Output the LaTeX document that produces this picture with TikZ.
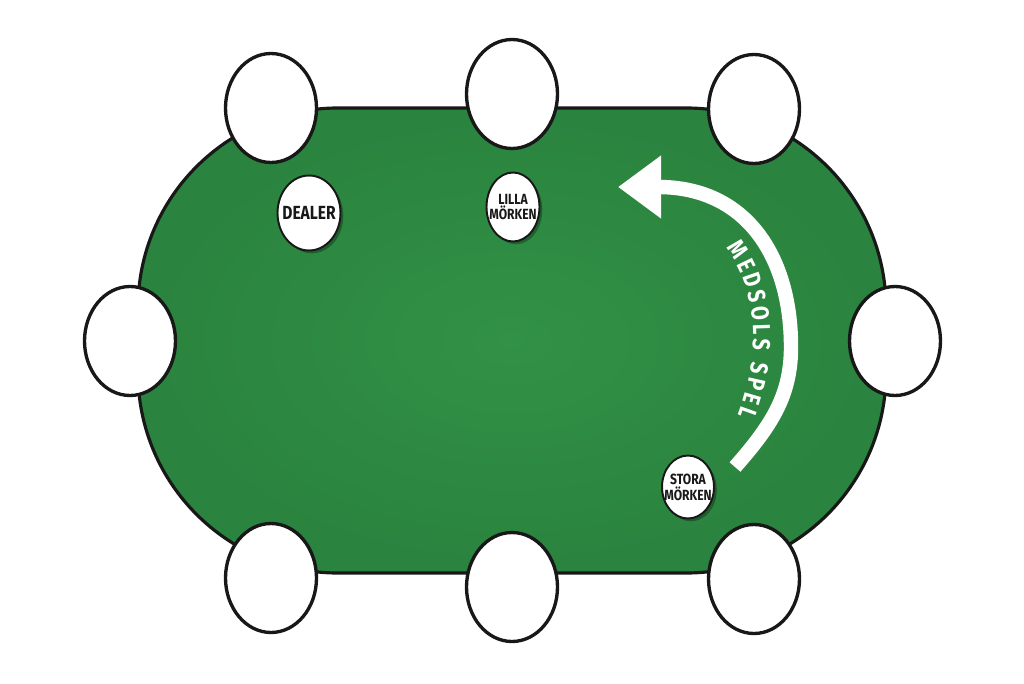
\documentclass[tikz,border=0pt]{standalone}
\usepackage{fontspec}
\usetikzlibrary{shapes.geometric,arrows.meta,decorations.text,shadows}
\newfontfamily\chipfont[FakeStretch=0.82]{Fira Sans}
\definecolor{felt}{RGB}{42,131,62}
\definecolor{feltlight}{RGB}{49,145,70}
\definecolor{rim}{RGB}{24,24,24}
\tikzset{
    table/.style={draw=rim,line width=1.8pt,inner color=feltlight,outer color=felt,rounded corners=4cm},
    seat/.style={ellipse,draw=rim,fill=white,line width=1.9pt,minimum width=1.82cm,minimum height=2.18cm,inner sep=0pt},
    chip/.style={ellipse,draw=rim,fill=white,line width=1.1pt,inner sep=0pt,
        drop shadow={shadow xshift=1.6pt,shadow yshift=-1.6pt,fill=black,opacity=0.3}},
    chiplabel/.style={text=rim,align=center,inner sep=0pt,font=\chipfont\bfseries\fontsize{8.4}{9}\selectfont},
    playarrow/.style={draw=white,line width=8.2pt,-{Triangle[length=0.86cm,width=1.2cm]}}
}
\newcommand{\spelfont}{\chipfont\bfseries\fontsize{14}{16}\selectfont}

\begin{document}
\begin{tikzpicture}[x=0.02cm,y=-0.02cm]
\fill[white](0,0)rectangle(1024,683);
\useasboundingbox(0,0)rectangle(1024,683);
\path[table](138,108)rectangle(886,573);
\node[seat](seattl) at (271,108){};
\node[seat](seattm) at (512,94){};
\node[seat](seattr) at (754,109){};
\node[seat](seatl) at (130,341){};
\node[seat](seatr) at (895,341){};
\node[seat](seatbl) at (271,578){};
\node[seat](seatbm) at (512,587){};
\node[seat](seatbr) at (754,579){};
\node[chip,minimum width=1.26cm,minimum height=1.5cm,
    label={[chiplabel,font=\chipfont\bfseries\fontsize{10.8}{12}\selectfont]center:DEALER}](dealer) at (309,213){};
\node[chip,minimum width=1.06cm,minimum height=1.38cm,
    label={[chiplabel]center:{LILLA\\MÖRKEN}}](small) at (513,207){};
\node[chip,minimum width=1.04cm,minimum height=1.26cm,
    label={[chiplabel]center:{STORA\\MÖRKEN}}](big) at (688,487){};
\coordinate(arrowtail) at (735,467);
\coordinate(arrowtip) at (618,187);
\draw[playarrow](arrowtail)..controls(772,425)and(791,395)..(791,347)
    ..controls(791,255)and(745,187)..(arrowtip);
\path[decorate,decoration={text along path,text align=fit to path,text color=white,
    text={|\spelfont|MEDSOLS SPEL}}](726,248)..controls(762,295)and(758,363)..(738,415);
\end{tikzpicture}
\end{document}
